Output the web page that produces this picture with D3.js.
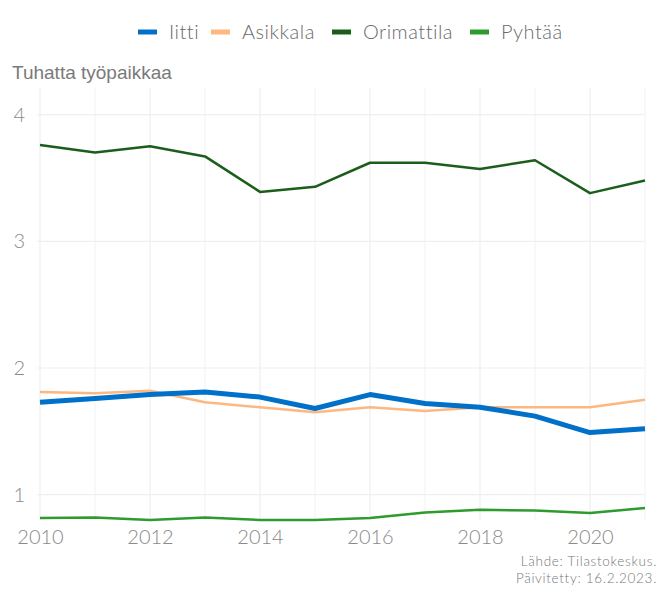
<!DOCTYPE html>
<html>
<head>
<meta charset="utf-8">
<script src="https://cdn.jsdelivr.net/npm/d3@7"></script>
<style>
  body { margin: 0; background: #fff; }
  svg { display: block; }
</style>
</head>
<body>
<div id="chart"></div>
<script>
var years = [2010, 2011, 2012, 2013, 2014, 2015, 2016, 2017, 2018, 2019, 2020, 2021];
var iitti      = [1.73, 1.76, 1.79, 1.81, 1.77, 1.68, 1.79, 1.72, 1.69, 1.62, 1.49, 1.52];
var asikkala   = [1.81, 1.80, 1.82, 1.73, 1.69, 1.65, 1.69, 1.66, 1.69, 1.69, 1.69, 1.75];
var orimattila = [3.76, 3.70, 3.75, 3.67, 3.39, 3.43, 3.62, 3.62, 3.57, 3.64, 3.38, 3.48];
var pyhtaa     = [0.815, 0.82, 0.80, 0.82, 0.80, 0.80, 0.815, 0.86, 0.88, 0.875, 0.855, 0.895];

var seriesNames = ["Iitti", "Asikkala", "Orimattila", "Pyhtää"];
var seriesColors = ["#0070c8", "#fdb780", "#1b5e1b", "#2e9b2e"];
var seriesWidths = [5, 2.5, 2.5, 2.5];
var seriesValues = [iitti, asikkala, orimattila, pyhtaa];

var xTicks = [2010, 2012, 2014, 2016, 2018, 2020];
var yTicks = [1, 2, 3, 4];

var width = 667, height = 590;
var margin = {top: 88, right: 22, bottom: 70, left: 40};

var svg = d3.select("#chart").append("svg")
    .attr("width", width)
    .attr("height", height);

var x = d3.scaleLinear().domain([2010, 2021]).range([margin.left, width - margin.right]);
var y = d3.scaleLinear().domain([0.8, 4.21]).range([height - margin.bottom, margin.top]);

// grid: every year vertical, y ticks horizontal
var grid = svg.append("g");
grid.selectAll("line.vx")
    .data(years)
  .enter().append("line")
    .attr("x1", function(d) { return x(d); })
    .attr("x2", function(d) { return x(d); })
    .attr("y1", margin.top)
    .attr("y2", height - margin.bottom)
    .attr("stroke", "#efefef")
    .attr("stroke-width", function(d) { return d % 2 === 0 ? 1.2 : 0.8; });

grid.selectAll("line.hy")
    .data(yTicks)
  .enter().append("line")
    .attr("x1", margin.left - 3)
    .attr("x2", width - margin.right)
    .attr("y1", function(d) { return y(d); })
    .attr("y2", function(d) { return y(d); })
    .attr("stroke", "#efefef")
    .attr("stroke-width", 1.2);

var lightFont = "Lato, sans-serif";

// axes
var yAxis = svg.append("g")
    .attr("transform", "translate(" + (margin.left - 6) + ",0)")
    .call(d3.axisLeft(y).tickValues(yTicks).tickSize(0).tickFormat(d3.format("d")));
yAxis.select(".domain").remove();
yAxis.selectAll("text")
    .attr("fill", "#8a8a8a")
    .style("font-family", lightFont)
    .style("font-weight", 300)
    .style("font-size", "20px")
    .attr("dx", "-6");

var xAxis = svg.append("g")
    .attr("transform", "translate(0," + (height - margin.bottom) + ")")
    .call(d3.axisBottom(x).tickValues(xTicks).tickSize(0).tickFormat(d3.format("d")));
xAxis.select(".domain").remove();
xAxis.selectAll("text")
    .attr("fill", "#8a8a8a")
    .style("font-family", lightFont)
    .style("font-weight", 300)
    .style("font-size", "20px")
    .attr("dy", "1.05em");

// lines (draw thin ones first, Iitti on top)
var line = d3.line()
    .x(function(d, i) { return x(years[i]); })
    .y(function(d) { return y(d); });

[1, 2, 3, 0].forEach(function(k) {
  svg.append("path")
      .datum(seriesValues[k])
      .attr("fill", "none")
      .attr("stroke", seriesColors[k])
      .attr("stroke-width", seriesWidths[k])
      .attr("stroke-linejoin", "round")
      .attr("d", line);
});

// y title
svg.append("text")
    .attr("x", 12)
    .attr("y", 79)
    .attr("fill", "#7a7a7a")
    .style("font-family", "'Liberation Sans', Arial, sans-serif")
    .style("font-size", "19px")
    .text("Tuhatta työpaikkaa");

// legend
var legendX = [138, 211, 332, 470];
var legend = svg.append("g");
seriesNames.forEach(function(name, i) {
  legend.append("line")
      .attr("x1", legendX[i])
      .attr("x2", legendX[i] + 19)
      .attr("y1", 32)
      .attr("y2", 32)
      .attr("stroke", seriesColors[i])
      .attr("stroke-width", 5);
  legend.append("text")
      .attr("x", legendX[i] + 31)
      .attr("y", 32)
      .attr("dy", "0.36em")
      .attr("fill", "#6a6a6a")
      .style("font-family", lightFont)
      .style("font-weight", 300)
      .style("font-size", "20px")
      .style("letter-spacing", "0.5px")
      .text(name);
});

// caption
var caption = ["Lähde: Tilastokeskus.", "Päivitetty: 16.2.2023."];
caption.forEach(function(t, i) {
  svg.append("text")
      .attr("x", 657)
      .attr("y", 566 + i * 17)
      .attr("text-anchor", "end")
      .attr("fill", "#777")
      .style("font-family", lightFont)
      .style("font-weight", 300)
      .style("font-size", "13.5px")
      .style("letter-spacing", "0.7px")
      .text(t);
});
</script>
</body>
</html>
